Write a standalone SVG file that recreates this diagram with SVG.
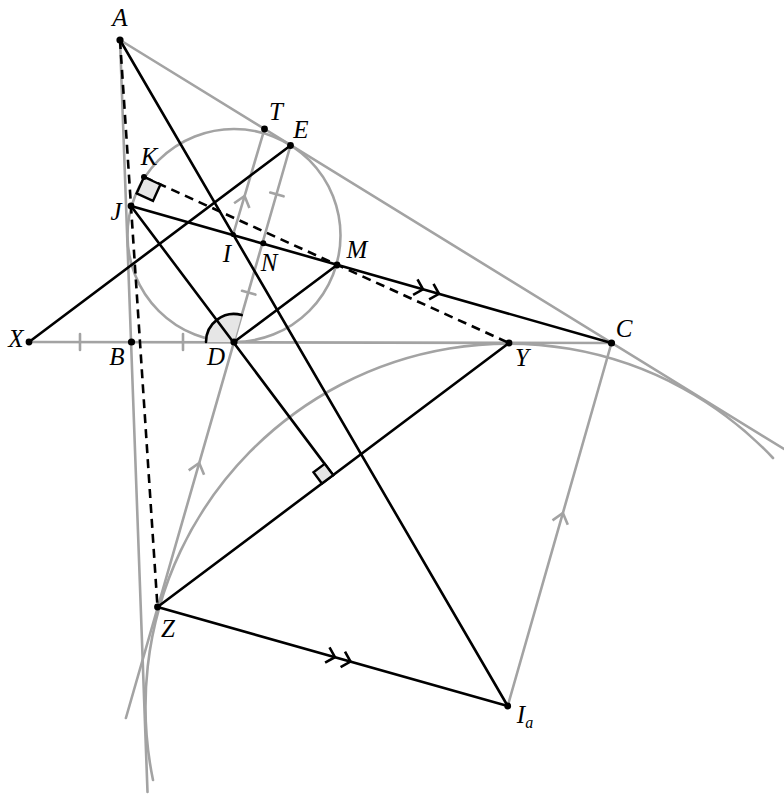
<svg xmlns="http://www.w3.org/2000/svg" width="784" height="798" viewBox="0 0 784 798">
<style>
.g{stroke:#a3a3a3;stroke-width:2.6;fill:none;stroke-linecap:round}
.k{stroke:#000;stroke-width:2.6;fill:none;stroke-linecap:round}
.d{stroke:#000;stroke-width:2.6;fill:none;stroke-dasharray:9 6}
.m{stroke-linejoin:miter;stroke-linecap:butt}
.sq{fill:#e6e6e6;stroke:#000;stroke-width:2.4;stroke-linejoin:miter}
.pt{fill:#000}
.lb{font-family:"Liberation Serif","DejaVu Serif",serif;font-style:italic;font-size:25px;fill:#000;text-anchor:middle}
.sub{font-size:16px}
</style>
<rect width="784" height="798" fill="#fff"/>
<g id="connectors">
  <!-- gray construction -->
  <line class="g" x1="120" y1="40" x2="784" y2="449"/>
  <line class="g" x1="120" y1="40" x2="147.5" y2="792"/>
  <line class="g" x1="29" y1="342" x2="611.5" y2="343"/>
  <circle class="g" cx="234" cy="235.5" r="106.5"/>
  <path class="g" d="M153 780 A363 363 0 0 1 773 458"/>
  <line class="g" x1="290.5" y1="145.5" x2="125.9" y2="718"/>
  <line class="g" x1="264.5" y1="129" x2="233.3" y2="234"/>
  <line class="g" x1="611.5" y1="343" x2="507.7" y2="706"/>
  <!-- ticks -->
  <line class="g" x1="80" y1="334" x2="80" y2="350"/>
  <line class="g" x1="183" y1="334" x2="183" y2="350"/>
  <line class="g" x1="270.2" y1="192.5" x2="283.6" y2="196.3"/>
  <line class="g" x1="242" y1="290.8" x2="255.4" y2="294.6"/>
  <!-- gray chevrons -->
  <path class="g m" d="M249.4 207.9 L244.6 196 L234.1 203.3"/>
  <path class="g m" d="M204.1 474.8 L199.2 463 L188.7 470.4"/>
  <path class="g m" d="M567.8 524.8 L562.9 513 L552.5 520.4"/>
  <!-- angle at D -->
  <path d="M234 342 L206 342 A28 28 0 0 1 241.7 315.1 Z" fill="#e6e6e6"/>
  <path class="k" d="M206 342 A28 28 0 0 1 241.7 315.1"/>
  <!-- black solid -->
  <line class="k" x1="120" y1="40" x2="507.7" y2="706"/>
  <line class="k" x1="29" y1="342" x2="290.5" y2="145.5"/>
  <line class="k" x1="131" y1="206" x2="611.5" y2="343"/>
  <line class="k" x1="131" y1="206" x2="333.1" y2="475.1"/>
  <line class="k" x1="234" y1="342" x2="337" y2="265"/>
  <line class="k" x1="157.5" y1="607" x2="509" y2="343"/>
  <line class="k" x1="157.5" y1="607" x2="507.7" y2="706"/>
  <!-- dashed -->
  <line class="d" x1="120" y1="40" x2="157.5" y2="607"/>
  <line class="d" x1="144" y1="177" x2="509" y2="343"/>
  <!-- black chevrons -->
  <path class="k m" d="M413.1 294.8 L423 289.3 L417.5 279.4"/>
  <path class="k m" d="M429.1 299.3 L439 293.8 L433.5 283.9"/>
  <path class="k m" d="M325.1 662.7 L335 657.2 L329.5 647.3"/>
  <path class="k m" d="M340.6 667.1 L350.5 661.6 L345 651.7"/>
  <!-- right angles -->
  <path class="sq" d="M144 177 L160.4 184.5 L153 200.9 L136.6 193.4 Z"/>
  <path class="sq" d="M333.1 475.1 L321.9 483.5 L313.5 472.3 L324.7 463.9 Z"/>
</g>
<g id="A"><circle class="pt" cx="120" cy="40" r="3.6"/><text class="lb" x="120" y="26">A</text></g>
<g id="T"><circle class="pt" cx="264.5" cy="129" r="3.4"/><text class="lb" x="276" y="120">T</text></g>
<g id="E"><circle class="pt" cx="290.5" cy="145.5" r="3.4"/><text class="lb" x="301" y="138">E</text></g>
<g id="K"><circle class="pt" cx="144" cy="177" r="3"/><text class="lb" x="149" y="165">K</text></g>
<g id="J"><circle class="pt" cx="131" cy="206" r="3.4"/><text class="lb" x="116" y="220">J</text></g>
<g id="I"><circle class="pt" cx="233.3" cy="234.5" r="2.6"/><text class="lb" x="227" y="262">I</text></g>
<g id="N"><circle class="pt" cx="263.3" cy="243.3" r="3"/><text class="lb" x="269" y="271">N</text></g>
<g id="M"><circle class="pt" cx="337" cy="265" r="3.4"/><text class="lb" x="357" y="258">M</text></g>
<g id="X"><circle class="pt" cx="29" cy="342" r="3.4"/><text class="lb" x="16" y="347">X</text></g>
<g id="B"><circle class="pt" cx="131.5" cy="342" r="3.6"/><text class="lb" x="117" y="365">B</text></g>
<g id="D"><circle class="pt" cx="234" cy="342" r="3.6"/><text class="lb" x="216" y="365">D</text></g>
<g id="Y"><circle class="pt" cx="509" cy="343" r="3.4"/><text class="lb" x="522" y="366">Y</text></g>
<g id="C"><circle class="pt" cx="611.5" cy="343" r="3.6"/><text class="lb" x="624" y="337">C</text></g>
<g id="Z"><circle class="pt" cx="157.5" cy="607" r="3.4"/><text class="lb" x="168" y="637">Z</text></g>
<g id="Ia"><circle class="pt" cx="507.7" cy="706" r="3.4"/><text class="lb" x="525" y="723">I<tspan class="sub" dy="5">a</tspan></text></g>
</svg>
